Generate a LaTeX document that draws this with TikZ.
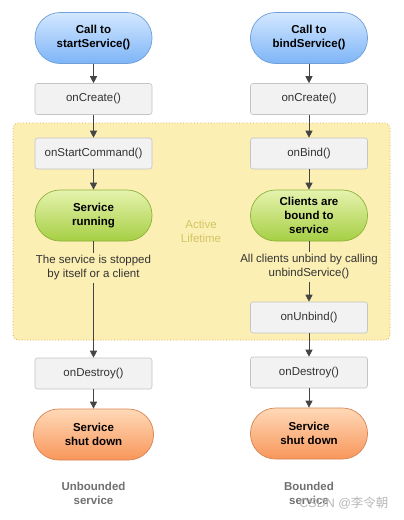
\documentclass[tikz,border=0pt]{standalone}
\usepackage{fontspec}
\setmainfont{Liberation Sans}
\newfontfamily\cjkfont{Noto Sans CJK SC}
\usetikzlibrary{arrows.meta}
\definecolor{txt}{HTML}{333333}
\definecolor{arr}{HTML}{444444}
\definecolor{boxfill}{HTML}{F2F2F2}
\definecolor{boxline}{HTML}{C4C4C4}
\definecolor{regfill}{HTML}{FCEFB4}
\definecolor{regline}{HTML}{E3A44A}
\definecolor{bluetop}{HTML}{D4E8FF}
\definecolor{bluebot}{HTML}{7DB4F7}
\definecolor{blueline}{HTML}{6E9FD8}
\definecolor{greentop}{HTML}{E6F3AE}
\definecolor{greenbot}{HTML}{A6CF44}
\definecolor{greenline}{HTML}{8DB23A}
\definecolor{orangetop}{HTML}{FFD9B8}
\definecolor{orangebot}{HTML}{F8965A}
\definecolor{orangeline}{HTML}{D98552}
\definecolor{activec}{HTML}{D2C565}
\definecolor{labelc}{HTML}{707070}
\tikzset{
  x=1pt, y=-1pt,
  every node/.style={font=\fontsize{11.5}{14}\selectfont, text=txt, align=center},
  method/.style={draw=boxline, fill=boxfill, rounded corners=2.5pt, minimum width=117pt, minimum height=31pt, line width=0.6pt},
  pill/.style={rounded corners=25pt, minimum width=117pt, minimum height=51pt, line width=0.7pt, font=\fontsize{11.5}{14}\selectfont\bfseries, text=black},
  bluepill/.style={pill, draw=blueline, top color=bluetop, bottom color=bluebot},
  greenpill/.style={pill, draw=greenline, top color=greentop, bottom color=greenbot},
  orangepill/.style={pill, draw=orangeline, top color=orangetop, bottom color=orangebot},
  note/.style={inner sep=2pt},
  flow/.style={draw=arr, line width=0.7pt, -{Triangle[width=7pt,length=7pt]}},
  plain/.style={draw=arr, line width=0.7pt},
  caption/.style={font=\fontsize{11.5}{14}\selectfont\bfseries, text=labelc},
}
\begin{document}
\begin{tikzpicture}
\useasboundingbox (0,0) rectangle (404,520);
\fill[white] (0,0) rectangle (404,520);
% active lifetime region
\draw[regline, fill=regfill, dotted, line width=0.8pt, rounded corners=5pt] (13,123) rectangle (390,340);
\node[text=activec] (active) at (201,231) {Active\\Lifetime};

% left column
\node[bluepill] (call1) at (93.5,38) {Call to\\startService()};
\node[method] (create1) at (93.5,99) {onCreate()};
\node[method] (start) at (93.5,153.5) {onStartCommand()};
\node[greenpill] (run) at (93.5,215.5) {Service\\running};
\node[note] (stoptext) at (93.5,268) {The service is stopped\\by itself or a client};
\node[method] (destroy1) at (93.5,373.5) {onDestroy()};
\node[orangepill, minimum width=120pt] (shut1) at (93.5,434.5) {Service\\shut down};
\node[caption] (label1) at (93.5,493) {Unbounded\\service};

% right column
\node[bluepill] (call2) at (309,38) {Call to\\bindService()};
\node[method] (create2) at (309,99) {onCreate()};
\node[method] (bind) at (309,153.5) {onBind()};
\node[greenpill] (bound) at (309,215.5) {Clients are\\bound to\\service};
\node[note] (unbindtext) at (309,267) {All clients unbind by calling\\unbindService()};
\node[method] (unbind) at (309,317.5) {onUnbind()};
\node[method] (destroy2) at (309,372.5) {onDestroy()};
\node[orangepill] (shut2) at (309,433.5) {Service\\shut down};
\node[caption] (label2) at (309,493) {Bounded\\service};

% watermark
\node[text=black!28, font=\fontsize{12.5}{14}\selectfont, anchor=east] (wm) at (392,503) {CSDN @{\cjkfont 李令朝}};

% connectors
\draw[flow] (call1) -- (create1);
\draw[flow] (create1) -- (start);
\draw[flow] (start) -- (run);
\draw[plain] (run) -- (stoptext);
\draw[flow] (stoptext) -- (destroy1);
\draw[flow] (destroy1) -- (shut1);

\draw[flow] (call2) -- (create2);
\draw[flow] (create2) -- (bind);
\draw[flow] (bind) -- (bound);
\draw[plain] (bound) -- (unbindtext);
\draw[flow] (unbindtext) -- (unbind);
\draw[flow] (unbind) -- (destroy2);
\draw[flow] (destroy2) -- (shut2);
\end{tikzpicture}
\end{document}
